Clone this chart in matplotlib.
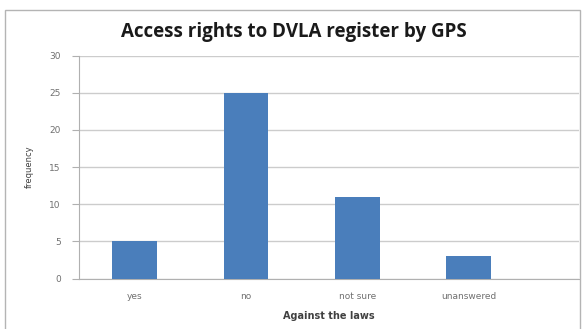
import matplotlib
matplotlib.use("Agg")
import matplotlib.pyplot as plt
from matplotlib.patches import Rectangle

categories = ["yes", "no", "not sure", "unanswered"]
values = [5, 25, 11, 3]
yticks = [0, 5, 10, 15, 20, 25, 30]

W, H = 584, 329
fig = plt.figure(figsize=(W / 100, H / 100), dpi=100)
fig.patch.set_facecolor("white")

# outer chart border
fig.add_artist(Rectangle((4.5 / W, -0.05), 575.5 / W, 1.05 - 10 / H,
                         transform=fig.transFigure, fill=False,
                         edgecolor="#b4b4b4", linewidth=1.0))

left, right = 79 / W, 579 / W
bottom, top = 1 - 278.5 / H, 1 - 55.7 / H
ax = fig.add_axes([left, bottom, right - left, top - bottom])

x = list(range(len(categories)))
ax.bar(x, values, width=0.4, color="#4a7ebb", zorder=3)

ax.set_ylim(0, 30)
ax.set_xlim(-0.5, -0.5 + (579 - 79) / 111.3)
ax.set_yticks(yticks)
ax.set_yticklabels([str(t) for t in yticks])
ax.set_xticks(x)
ax.set_xticklabels(categories)
ax.yaxis.grid(True, color="#cccccc", linewidth=1.0, zorder=0)
ax.set_axisbelow(True)

for s in ["top", "right"]:
    ax.spines[s].set_visible(False)
ax.spines["left"].set_color("#b0b0b0")
ax.spines["bottom"].set_color("#b0b0b0")

ax.tick_params(axis="y", length=5, color="#b0b0b0", labelsize=6.5,
               labelcolor="#707070", pad=8)
ax.tick_params(axis="x", length=0, labelsize=6.5, labelcolor="#707070", pad=10)

ax.set_ylabel("frequency", fontsize=6, color="#404040", labelpad=11)
ax.set_xlabel("Against the laws", fontsize=7, fontweight="bold",
              color="#404040", labelpad=7)

fig.text(294 / W, 1 - 32 / H, "Access rights to DVLA register by GPS",
         ha="center", va="center", fontsize=13.5, fontweight="bold",
         color="#1a1a1a", family="Open Sans")

fig.savefig("out.png", dpi=100)
